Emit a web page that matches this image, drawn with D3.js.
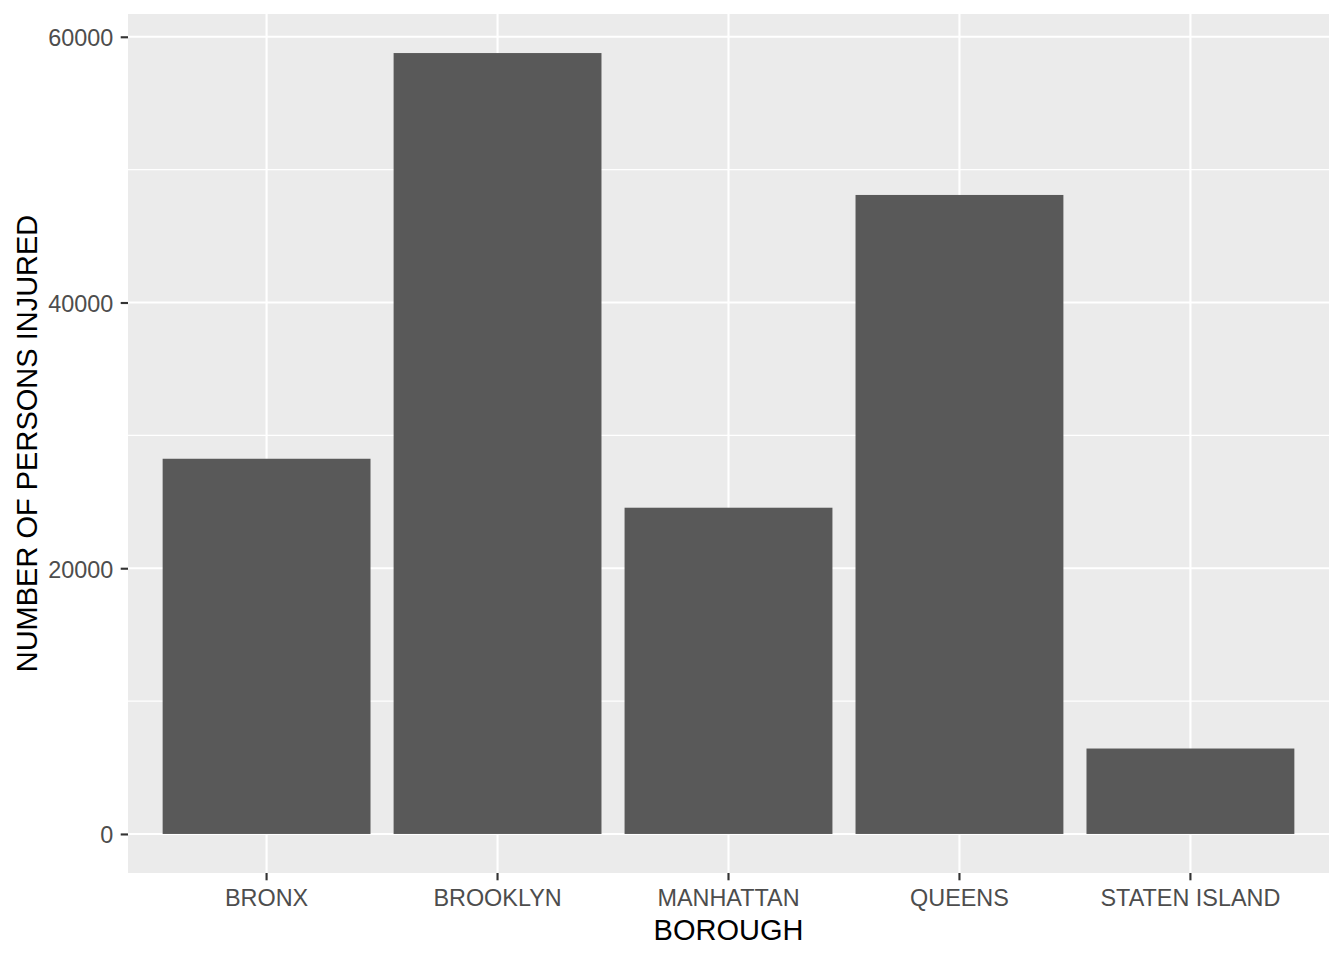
<!DOCTYPE html>
<html>
<head>
<meta charset="utf-8">
<script src="https://cdn.jsdelivr.net/npm/d3@7"></script>
<style>
  html, body { margin: 0; padding: 0; background: #fff; }
  svg { display: block; font-family: "Liberation Sans", Arial, sans-serif; }
</style>
</head>
<body>
<svg id="chart" width="1344" height="960"></svg>
<script>
const categories = ["BRONX", "BROOKLYN", "MANHATTAN", "QUEENS", "STATEN ISLAND"];
const injured = [28240, 58776, 24555, 48095, 6430];
const yTicks = [0, 20000, 40000, 60000];
const yMinorTicks = [10000, 30000, 50000];
const xTitle = "BOROUGH";
const yTitle = "NUMBER OF PERSONS INJURED";

const W = 1344, H = 960;
const panel = { left: 128, right: 1329, top: 14, bottom: 873 };

const svg = d3.select("#chart");

const maxV = d3.max(injured);
const expand = maxV * 0.05;
const y = d3.scaleLinear()
  .domain([-expand, maxV + expand])
  .range([panel.bottom, panel.top]);

// discrete scale: positions 1..n with 0.6 additive expansion
const n = categories.length;
const xc = d3.scaleLinear().domain([0.4, n + 0.6]).range([panel.left, panel.right]);
const x = c => xc(categories.indexOf(c) + 1);
const barW = xc(1.9) - xc(1.0);

// panel background
svg.append("rect")
  .attr("x", panel.left).attr("y", panel.top)
  .attr("width", panel.right - panel.left).attr("height", panel.bottom - panel.top)
  .attr("fill", "#EBEBEB");

const grid = svg.append("g");
grid.selectAll("line.minor").data(yMinorTicks).join("line")
  .attr("x1", panel.left).attr("x2", panel.right)
  .attr("y1", d => y(d)).attr("y2", d => y(d))
  .attr("stroke", "#fff").attr("stroke-width", 1.07);
grid.selectAll("line.majory").data(yTicks).join("line")
  .attr("x1", panel.left).attr("x2", panel.right)
  .attr("y1", d => y(d)).attr("y2", d => y(d))
  .attr("stroke", "#fff").attr("stroke-width", 2.13);
grid.selectAll("line.majorx").data(categories).join("line")
  .attr("y1", panel.top).attr("y2", panel.bottom)
  .attr("x1", d => x(d)).attr("x2", d => x(d))
  .attr("stroke", "#fff").attr("stroke-width", 2.13);

// bars
svg.append("g").selectAll("rect").data(categories).join("rect")
  .attr("x", d => x(d) - barW / 2)
  .attr("width", barW)
  .attr("y", (d, i) => y(injured[i]))
  .attr("height", (d, i) => y(0) - y(injured[i]))
  .attr("fill", "#595959");

// y axis
const yAxis = d3.axisLeft(y).tickValues(yTicks).tickSize(7.3).tickPadding(7.5).tickFormat(d3.format("d"));
const gy = svg.append("g").attr("transform", `translate(${panel.left},0)`).call(yAxis);
gy.select(".domain").remove();
gy.selectAll(".tick line").attr("stroke", "#333333").attr("stroke-width", 2.13);
gy.selectAll(".tick text").attr("fill", "#4D4D4D").attr("font-size", 23.4)
  .attr("font-family", "Liberation Sans, Arial, sans-serif").attr("dy", "0.38em");

// x axis
const gx = svg.append("g");
gx.selectAll("line").data(categories).join("line")
  .attr("x1", d => x(d)).attr("x2", d => x(d))
  .attr("y1", panel.bottom).attr("y2", panel.bottom + 7.3)
  .attr("stroke", "#333333").attr("stroke-width", 2.13);
gx.selectAll("text").data(categories).join("text")
  .attr("x", d => x(d)).attr("y", 905.5)
  .attr("text-anchor", "middle")
  .attr("fill", "#4D4D4D").attr("font-size", 23.4)
  .text(d => d);

// axis titles
svg.append("text")
  .attr("x", (panel.left + panel.right) / 2).attr("y", 940)
  .attr("text-anchor", "middle").attr("fill", "#000").attr("font-size", 29)
  .text(xTitle);

svg.append("text")
  .attr("transform", `translate(37,${(panel.top + panel.bottom) / 2}) rotate(-90)`)
  .attr("text-anchor", "middle").attr("fill", "#000").attr("font-size", 29)
  .text(yTitle);
</script>
</body>
</html>
